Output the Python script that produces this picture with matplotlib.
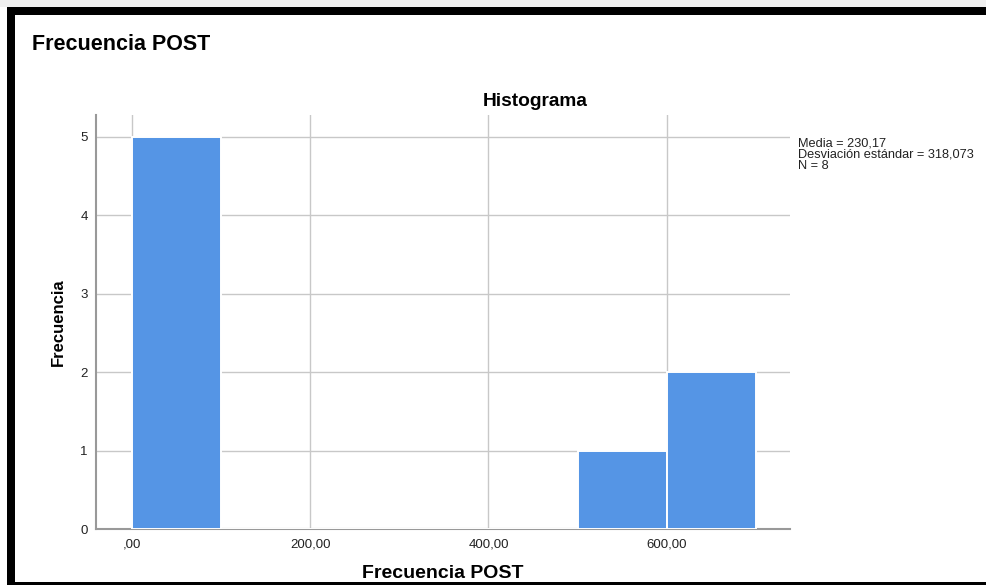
import matplotlib
matplotlib.use("Agg")
import matplotlib.pyplot as plt
from matplotlib.patches import Rectangle

# ---- data ----
bin_edges = [0, 100, 200, 300, 400, 500, 600, 700]
counts = [5, 0, 0, 0, 0, 1, 2]
x_ticks = [0, 200, 400, 600]
x_tick_labels = [",00", "200,00", "400,00", "600,00"]
y_ticks = [0, 1, 2, 3, 4, 5]
stats_text = "Media = 230,17\nDesviación estándar = 318,073\nN = 8"

plt.rcParams['font.family'] = ['Liberation Sans', 'DejaVu Sans']

W, H = 986, 585
fig = plt.figure(figsize=(W / 100, H / 100), dpi=100)
fig.patch.set_facecolor("white")

# frame
def px_rect(x0, y0, x1, y1, color):
    fig.patches.append(Rectangle((x0 / W, 1 - y1 / H), (x1 - x0) / W, (y1 - y0) / H,
                                 transform=fig.transFigure, facecolor=color,
                                 edgecolor="none", zorder=0))

px_rect(0, 0, W, 7, "#f0f0f0")
px_rect(7, 7, W, 15, "black")
px_rect(7, 7, 15, 585, "black")
px_rect(7, 582, W, 585, "black")

ax = fig.add_axes([96 / W, 1 - 529 / H, (790 - 96) / W, (529 - 115) / H])
lefts = bin_edges[:-1]
widths = [b - a for a, b in zip(bin_edges[:-1], bin_edges[1:])]
ax.bar(lefts, counts, width=widths, align="edge", color="#5595E5",
       edgecolor="white", linewidth=1.4, zorder=3)

ax.set_xlim(-40, 738)
ax.set_ylim(0, 5.28)
ax.set_xticks(x_ticks)
ax.set_xticklabels(x_tick_labels)
ax.set_yticks(y_ticks)
ax.tick_params(axis="both", length=0, labelsize=9.5, colors="#222222")
ax.tick_params(axis="x", pad=7)
ax.tick_params(axis="y", pad=6)
ax.grid(True, color="#c8c8c8", linewidth=1.0, zorder=1)
ax.set_axisbelow(True)
for s in ["top", "right"]:
    ax.spines[s].set_visible(False)
for s in ["left", "bottom"]:
    ax.spines[s].set_color("#999999")
    ax.spines[s].set_linewidth(1.5)

ax.set_xlabel("Frecuencia POST", fontsize=14, fontweight="bold", labelpad=10)
ax.set_ylabel("Frecuencia", fontsize=12, fontweight="bold", labelpad=10)

fig.text(535 / W, 1 - 102 / H, "Histograma", fontsize=13.8, fontweight="bold",
         ha="center", va="center")
fig.text(32 / W, 1 - 44 / H, "Frecuencia POST", fontsize=15.5, fontweight="bold",
         ha="left", va="center")
fig.text(798 / W, 1 - 137 / H, stats_text, fontsize=9.2, ha="left", va="top",
         linespacing=0.95, color="#222222")

fig.savefig("out.png", dpi=100)
